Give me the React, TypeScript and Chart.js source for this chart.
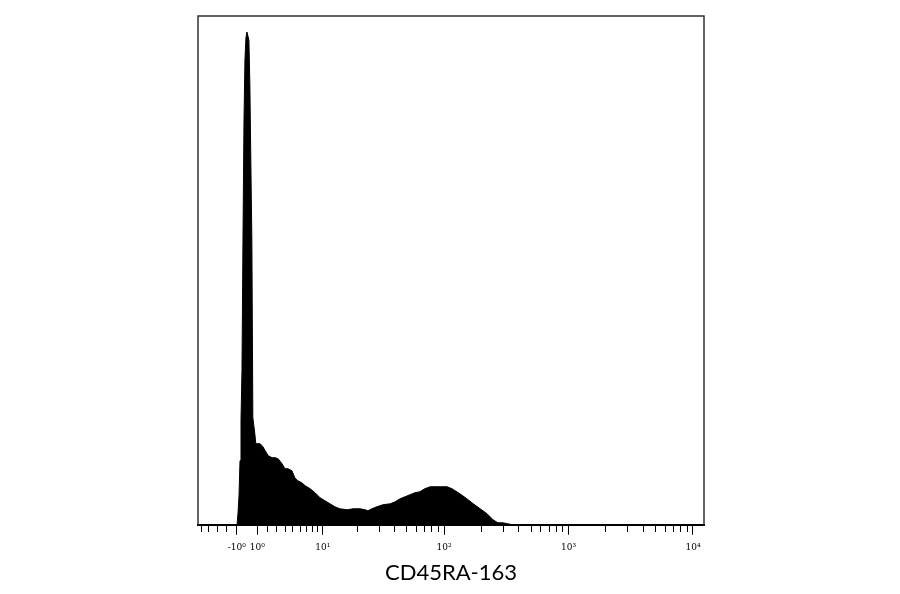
import React, { useEffect, useRef } from "react";
import { Chart, registerables } from "chart.js";

Chart.register(...registerables);

// Histogram: channel positions (0..1024 display channels) and event counts
const channels = [
  77, 79, 81, 83, 85, 87, 89, 91, 93, 95, 97, 99, 101, 103, 105, 107, 109, 111, 113, 115, 117,
  121, 125, 130, 136, 142, 150, 156, 162, 170, 176, 182, 190, 196, 202, 210, 217, 227, 237,
  247, 257, 267, 277, 287, 302, 314, 328, 338, 344, 352, 362, 374, 389, 399, 409, 419, 429,
  439, 449, 459, 470, 480, 490, 504, 514, 530, 544, 557, 571, 585, 597, 607, 617, 627, 637, 660,
];
const counts = [
  0, 0, 12, 29, 64, 104, 154, 284, 401, 464, 486, 492, 488, 484, 439, 361, 284, 107, 99, 91, 81,
  81, 81, 79, 74, 69, 67, 67, 66, 61, 56, 56, 54, 47, 44, 42, 39, 36, 32,
  27, 24, 21, 18, 16, 15, 16, 16, 15, 14, 16, 18, 20, 21, 23, 26, 28, 30,
  32, 33, 36, 38, 38, 38, 38, 36, 31, 26, 21, 16, 11, 5, 2, 2, 1, 0, 0,
];

// Axis ticks (data values on the biexponential scale) and their labels
const tickValues = [
  -5, -4, -3, -2, -1,
  1, 2, 3, 4, 5, 6, 7, 8, 9,
  10, 20, 30, 40, 50, 60, 70, 80, 90,
  100, 200, 300, 400, 500, 600, 700, 800, 900,
  1000, 2000, 3000, 4000, 5000, 6000, 7000, 8000, 9000,
  10000,
];
const majorLabels: Record<number, string> = {
  [-1]: "-10⁰",
  1: "10⁰",
  10: "10¹",
  100: "10²",
  1000: "10³",
  10000: "10⁴",
};
const axisTitle = "CD45RA-163";

// biexponential (arcsinh) display transform: value -> display channel
const ZERO_CH = 99.2;
const K_CH = 109.4;
const COF = 5.23;
const toChannel = (v: number) => ZERO_CH + K_CH * Math.asinh(v / COF);

const framePlugin = {
  id: "frame",
  afterDatasetsDraw(chart: any) {
    const { ctx, chartArea } = chart;
    ctx.save();
    ctx.strokeStyle = "#333";
    ctx.lineWidth = 1.5;
    ctx.beginPath();
    ctx.moveTo(chartArea.left, chartArea.bottom);
    ctx.lineTo(chartArea.left, chartArea.top);
    ctx.lineTo(chartArea.right, chartArea.top);
    ctx.lineTo(chartArea.right, chartArea.bottom);
    ctx.stroke();
    ctx.restore();
  },
};

export default function App() {
  const ref = useRef<HTMLCanvasElement>(null);
  useEffect(() => {
    if (!ref.current) return;
    const points = channels.map((c, i) => ({ x: c, y: counts[i] }));
    const chart = new Chart(ref.current, {
      type: "line",
      data: {
        datasets: [
          {
            data: points,
            fill: "origin",
            backgroundColor: "#000",
            borderColor: "#000",
            borderWidth: 1,
            pointRadius: 0,
            tension: 0,
          },
        ],
      },
      options: {
        animation: false,
        responsive: false,
        layout: { padding: { left: 198, right: 196, top: 16, bottom: 0 } },
        plugins: { legend: { display: false }, tooltip: { enabled: false } },
        scales: {
          x: {
            type: "linear",
            min: 0,
            max: 1024,
            afterBuildTicks: (scale: any) => {
              scale.ticks = tickValues.map((v) => ({ value: toChannel(v) }));
            },
            border: { display: true, color: "#000", width: 2 },
            grid: {
              drawOnChartArea: false,
              drawTicks: true,
              tickLength: 10,
              tickWidth: 1,
              tickColor: "#000",
              tickBorderDash: (ctx: any) =>
                majorLabels[tickValues[ctx.index]] !== undefined ? [] : [6, 30],
            },
            ticks: {
              autoSkip: false,
              maxRotation: 0,
              padding: 7,
              color: "#000",
              font: { family: "DejaVu Serif", size: 9 },
              callback: (_v: any, i: number) => majorLabels[tickValues[i]] ?? "",
            },
            title: {
              display: true,
              text: axisTitle,
              color: "#000",
              font: { family: "Lato", size: 22 },
              padding: { top: 0, bottom: 8 },
            },
          },
          y: {
            display: false,
            min: 0,
            max: 508,
          },
        },
      },
      plugins: [framePlugin],
    });
    return () => chart.destroy();
  }, []);
  return (
    <div style={{ position: "fixed", left: 0, top: 0, width: 900, height: 594, background: "#fff" }}>
      <canvas ref={ref} width={900} height={594} style={{ display: "block" }} />
    </div>
  );
}
